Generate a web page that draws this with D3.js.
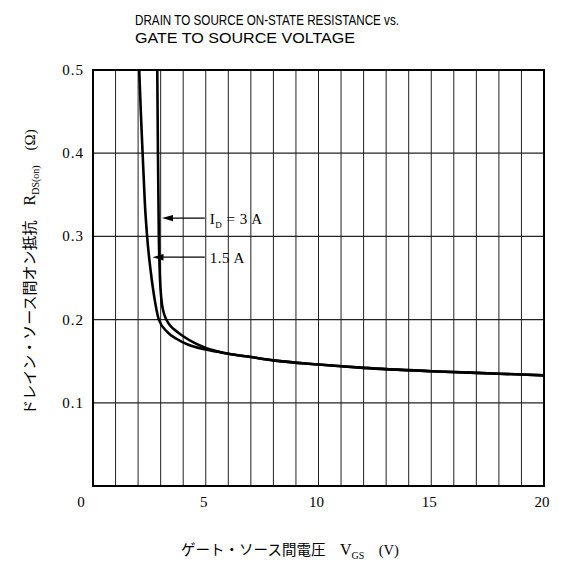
<!DOCTYPE html>
<html><head><meta charset="utf-8">
<script src="https://cdn.jsdelivr.net/npm/d3@7"></script>
<style>body{margin:0;background:#fff}svg{display:block}</style>
</head><body>
<svg id="c" width="563" height="568"></svg>
<script>
const xTicks = [0, 5, 10, 15, 20];
const yTicks = [0.1, 0.2, 0.3, 0.4, 0.5];
const xGrid = d3.range(0, 21, 1);
const yGrid = [0.1, 0.2, 0.3, 0.4];
const vgs15 = [2.05, 2.12, 2.2, 2.3, 2.4, 2.55, 2.7, 2.92, 3.3, 3.7, 4.2, 5, 6, 7, 8, 10, 12, 15, 18, 20];
const r15   = [0.5, 0.45, 0.4, 0.34, 0.3, 0.26, 0.23, 0.2, 0.185, 0.177, 0.17, 0.164, 0.159, 0.155, 0.151, 0.146, 0.142, 0.138, 0.135, 0.133];
const vgs3  = [2.85, 2.88, 2.92, 2.97, 3.03, 3.12, 3.25, 3.45, 3.7, 4.0, 4.5, 5, 5.5, 6, 7, 8, 10, 12, 15, 18, 20];
const r3    = [0.5, 0.4, 0.3, 0.25, 0.225, 0.21, 0.2, 0.192, 0.186, 0.18, 0.172, 0.166, 0.162, 0.159, 0.155, 0.151, 0.146, 0.142, 0.138, 0.135, 0.133];
const labels = [{text: "I", sub: "D", rest: " = 3 A", v: 2.97, r: 0.322}, {text: "1.5 A", sub: "", rest: "", v: 2.55, r: 0.275}];

const svg = d3.select("#c");
const L = 93, R = 544, T = 70, B = 486;
const x = d3.scaleLinear().domain([0, 20]).range([L, R]);
const y = d3.scaleLinear().domain([0, 0.5]).range([B, T]);

// grid
svg.append("g").selectAll("line").data(xGrid.slice(1, -1)).join("line")
  .attr("x1", d => x(d)).attr("x2", d => x(d)).attr("y1", T).attr("y2", B)
  .attr("stroke", "#222").attr("stroke-width", 1);
svg.append("g").selectAll("line").data(yGrid).join("line")
  .attr("x1", L).attr("x2", R).attr("y1", d => y(d)).attr("y2", d => y(d))
  .attr("stroke", "#222").attr("stroke-width", 1.2);
// frame
svg.append("rect").attr("x", L).attr("y", T).attr("width", R - L).attr("height", B - T)
  .attr("fill", "none").attr("stroke", "#000").attr("stroke-width", 2);

// curves
svg.append("clipPath").attr("id", "clip").append("rect")
  .attr("x", L).attr("y", T).attr("width", R - L).attr("height", B - T);
const line = d3.line().x(d => x(d[0])).y(d => y(d[1])).curve(d3.curveMonotoneX);
[[vgs15, r15], [vgs3, r3]].forEach(([vs, rs]) => {
  svg.append("path").datum(vs.map((v, i) => [v, rs[i]]))
    .attr("d", line).attr("fill", "none").attr("stroke", "#000")
    .attr("stroke-width", 2.6).attr("clip-path", "url(#clip)");
});

// annotations
const serif = "Liberation Serif, Times New Roman, serif";
labels.forEach(lb => {
  const ya = y(lb.r);
  const tip = x(lb.v) + 2;
  svg.append("line").attr("x1", x(5) - 1).attr("x2", tip + 8).attr("y1", ya).attr("y2", ya)
    .attr("stroke", "#000").attr("stroke-width", 1.3);
  svg.append("path").attr("d", `M${tip},${ya} L${tip + 11},${ya - 3.2} L${tip + 11},${ya + 3.2} Z`)
    .attr("fill", "#000");
  const t = svg.append("text").attr("x", x(5) + 4).attr("y", ya + 6)
    .attr("font-family", serif).attr("font-size", 15).attr("letter-spacing", 0.5);
  t.append("tspan").text(lb.text);
  if (lb.sub) {
    t.append("tspan").attr("font-size", 9).attr("dy", 4).text(lb.sub);
    t.append("tspan").attr("dy", -4).text(lb.rest);
  }
});

// tick labels
svg.append("g").selectAll("text").data(yTicks).join("text")
  .attr("x", 84).attr("y", d => y(d) + 5).attr("text-anchor", "end")
  .attr("font-family", serif).attr("font-size", 15).attr("letter-spacing", 1)
  .text(d => d3.format(".1f")(d));
svg.append("g").selectAll("text").data(xTicks).join("text")
  .attr("x", d => d === 0 ? 81 : x(d) - 2).attr("y", 507).attr("text-anchor", "middle")
  .attr("font-family", serif).attr("font-size", 15)
  .text(d => d);

// title
const sans = "Liberation Sans, Arial, sans-serif";
svg.append("text").attr("x", 135).attr("y", 25).attr("font-family", sans).attr("font-size", 14.5)
  .attr("textLength", 264).attr("lengthAdjust", "spacingAndGlyphs")
  .text("DRAIN TO SOURCE ON-STATE RESISTANCE vs.");
svg.append("text").attr("x", 135).attr("y", 43).attr("font-family", sans).attr("font-size", 14.5)
  .attr("textLength", 220).attr("lengthAdjust", "spacingAndGlyphs")
  .text("GATE TO SOURCE VOLTAGE");

// axis titles
const jp = "Noto Sans CJK JP, sans-serif";
const yl = svg.append("text").attr("transform", "translate(35,272) rotate(-90)")
  .attr("text-anchor", "middle").attr("font-family", jp).attr("font-size", 15);
yl.append("tspan").text("ドレイン・ソース間オン抵抗\u3000");
yl.append("tspan").attr("font-family", serif).attr("font-size", 16).text("R");
yl.append("tspan").attr("font-family", serif).attr("font-size", 10).attr("dy", 4).text("DS(on)");
yl.append("tspan").attr("dy", -4).attr("font-family", serif).text("\u2003(Ω)");

const xl = svg.append("text").attr("x", 290).attr("y", 555)
  .attr("text-anchor", "middle").attr("font-family", jp).attr("font-size", 14.5);
xl.append("tspan").text("ゲート・ソース間電圧\u3000");
xl.append("tspan").attr("font-family", serif).attr("font-size", 16).text("V");
xl.append("tspan").attr("font-family", serif).attr("font-size", 10).attr("dy", 4).text("GS");
xl.append("tspan").attr("dy", -4).attr("font-family", serif).text("\u2003(V)");
</script>
</body></html>
